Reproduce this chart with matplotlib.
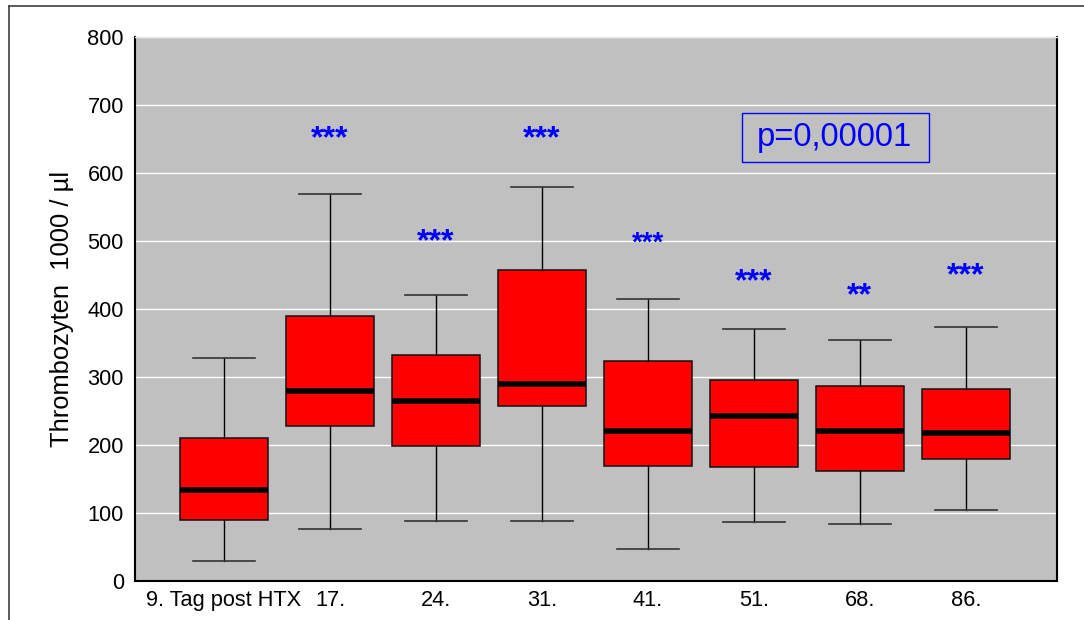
import matplotlib.pyplot as plt
from matplotlib.lines import Line2D
from matplotlib.patches import Rectangle

plt.rcParams['font.family'] = ['Liberation Sans', 'DejaVu Sans']

# values (Thrombozyten 1000/µl)
labels = ["9. Tag post HTX", "17.", "24.", "31.", "41.", "51.", "68.", "86."]
whislo = [30, 76, 88, 88, 47, 87, 84, 105]
q1 = [90, 228, 199, 258, 169, 168, 162, 180]
med = [134, 280, 265, 289, 221, 242, 221, 218]
q3 = [211, 390, 333, 457, 324, 295, 287, 283]
whishi = [328, 569, 421, 579, 415, 370, 354, 373]

# significance marks and their height
stars = ["***", "***", "***", "***", "***", "***", "**", "***"]
star_y = [None, 660, 508, 660, 507, 449, 429, 458]
star_size = [23, 23, 23, 23, 20, 23, 23, 23]

p_text = "p=0,00001"

fig = plt.figure(figsize=(10.84, 6.2), dpi=100)
ax = fig.add_axes([135/1084, 1-581/620, 922/1084, 544/620])
ax.set_facecolor('#c0c0c0')

stats = []
for i in range(len(labels)):
    stats.append(dict(whislo=whislo[i], q1=q1[i], med=med[i], q3=q3[i],
                      whishi=whishi[i], fliers=[]))

pos = list(range(len(labels)))
ax.bxp(stats, positions=pos, widths=0.83, patch_artist=True, showfliers=False,
       boxprops=dict(facecolor='#ff0000', edgecolor='#111111', linewidth=1.1),
       medianprops=dict(color='black', linewidth=4, solid_capstyle='butt'),
       whiskerprops=dict(color='black', linewidth=1),
       capprops=dict(color='#333333', linewidth=1.2), capwidths=0.58,
       zorder=3)

for i in range(len(labels)):
    if star_y[i] is None:
        continue
    ax.annotate(stars[i], (pos[i], star_y[i]), xytext=(0, -10.5),
                textcoords='offset points', ha='center', va='baseline',
                color='#0000ff', fontsize=star_size[i], fontweight='bold',
                zorder=5)

ax.text(0.759, 0.816, p_text, transform=ax.transAxes, ha='center', va='center',
        fontsize=23.5, color='#0000ff')
ax.add_patch(Rectangle((0.658, 0.770), 0.203, 0.090, transform=ax.transAxes,
                       facecolor='none', edgecolor='#0000ff', linewidth=1,
                       zorder=5))

ax.set_xlim(-0.84, 7.86)
ax.set_ylim(0, 800)
ax.set_yticks(range(0, 801, 100))
ax.set_xticks(pos)
ax.set_xticklabels(labels)
ax.tick_params(axis='both', length=0, labelsize=15.7)
ax.tick_params(axis='y', pad=8)
ax.tick_params(axis='x', pad=6.5)
ax.yaxis.grid(True, color='white', linewidth=1)
ax.set_axisbelow(True)

ax.set_ylabel("Thrombozyten  1000 / µl", fontsize=18.4)
ax.yaxis.set_label_coords(-0.066, 0.5)

for s in ['left', 'bottom', 'right']:
    ax.spines[s].set_color('black')
    ax.spines[s].set_linewidth(1.5)
ax.spines['top'].set_color('#e6e6e6')
ax.spines['top'].set_linewidth(1)

# outer frame (only left and top visible in the crop)
fx = 9/1084
fy = 1 - 6/620
fig.add_artist(Line2D([fx, fx], [0, fy], color='#404040', linewidth=1.2))
fig.add_artist(Line2D([fx, 1], [fy, fy], color='#404040', linewidth=1.2))

fig.savefig("out.png", dpi=100)
